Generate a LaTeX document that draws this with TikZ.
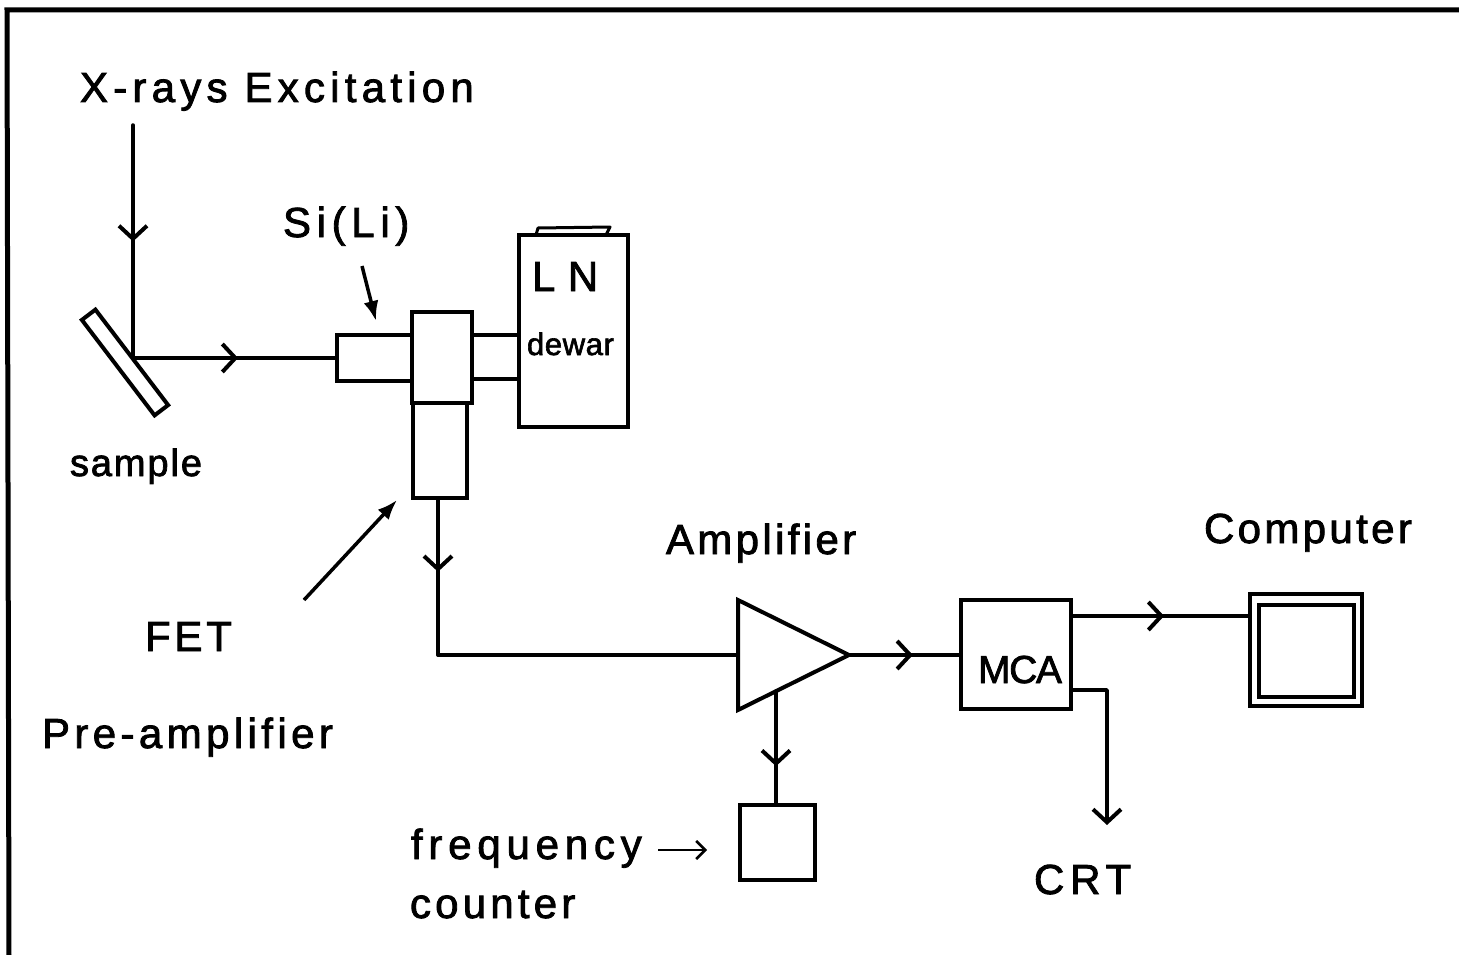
\documentclass[tikz,border=0pt]{standalone}
\usepackage{fontspec}
\setmainfont{Liberation Sans}
\newcommand{\lblfont}[2]{\fontsize{#1}{#1}\fontspec{Liberation Sans}[LetterSpace=#2,FakeBold=2]}
\usetikzlibrary{arrows.meta,decorations.markings}
\tikzset{
  x=1pt,y=-1pt,
  wire/.style={line width=3.5pt,line cap=round,line join=round},
  box/.style={draw,line width=4.5pt,rectangle,inner sep=0pt,outer sep=0pt},
  bar/.style={-{Straight Barb[length=13pt,width=28pt,line width=4pt]}},
  midbar/.style={postaction={decorate},decoration={markings,
     mark=at position #1 with {\arrow{Straight Barb[length=13pt,width=28pt,line width=4pt]}}}},
  lab/.style={anchor=base west,inner sep=0pt,outer sep=0pt},
  pointer/.style={line width=3.5pt,-{Latex[length=20pt,width=15pt]}}
}
\begin{document}
\begin{tikzpicture}
\useasboundingbox (0,0) rectangle (1459,955);
% frame
\coordinate (fb) at (9,955);
\coordinate (ft) at (7,10);
\coordinate (fr) at (1459,10);
\draw[line width=5pt] (fb) -- (ft) -- (fr);
% sample and excitation
\node[box,line width=4pt,rotate=-52.7,minimum width=120pt,minimum height=17pt] (sample) at (125,362.5) {};
\coordinate (xin) at (133,125);
\coordinate (hit) at (133,358);
\draw[wire,midbar=0.5] (xin) -- (hit);
% detector assembly
\node[box,minimum width=75pt,minimum height=46pt] (sili) at (374.5,358) {};
\node[box,minimum width=109pt,minimum height=192pt] (dewar) at (573.5,331) {};
\draw[wire] (472,335) -- (519,335);
\draw[wire] (472,379) -- (519,379);
\node[box,fill=white,minimum width=60pt,minimum height=91pt] (cold) at (442,357.5) {};
\node[box,minimum width=54pt,minimum height=95pt] (fet) at (440,450.5) {};
\draw[line width=3pt,line join=round] (536,235) -- (538,228) -- (610,227) -- (606,235);
\draw[wire,midbar=0.515] (hit) -- (sili.west);
% amplifier
\coordinate (a1) at (738,600);
\coordinate (a2) at (738,710);
\coordinate (a3) at (849,655);
\draw[wire,line width=4pt,line join=miter] (a1) -- (a3) -- (a2) -- cycle;
\coordinate (ain) at (738,655);
\coordinate (adown) at (776,691);
\coordinate (fetout) at (438,498);
\coordinate (bend) at (438,655);
\draw[wire,midbar=0.47] (fetout) -- (bend);
\draw[wire] (bend) -- (ain);
% frequency counter
\node[box,minimum width=75pt,minimum height=75pt] (freq) at (777.5,842.5) {};
\draw[wire,midbar=0.66] (adown) -- (adown |- freq.north);
\node[lab,font=\lblfont{42}{13.8}] (ftxt) at (411,859) {frequency};
\node[lab,font=\lblfont{42}{10}] (ctxt) at (410,918) {counter};
\coordinate (fa1) at (658,850);
\coordinate (fa2) at (707,850);
\draw[line width=2.5pt,-{Straight Barb[length=9pt,width=18pt,line width=2.5pt]}] (fa1) -- (fa2);
% MCA
\node[box,minimum width=110pt,minimum height=109pt] (mca) at (1016,654.5) {};
\draw[wire,midbar=0.57] (a3) -- (mca.west |- a3);
\node[lab,font=\lblfont{39}{-3.5}] (mcat) at (978,683) {MCA};
% computer
\node[box,minimum width=112pt,minimum height=112pt] (comp) at (1306,650) {};
\node[box,minimum width=95pt,minimum height=92pt] (screen) at (1306.5,651) {};
\coordinate (mo1) at (1071,616);
\coordinate (mo2) at (1071,690);
\coordinate (crt) at (1107,825);
\draw[wire,midbar=0.52] (mo1) -- (comp.west |- mo1);
\draw[wire,bar] (mo2) -- (1107,690) -- (crt);
% pointers
\coordinate (p1) at (362,266);
\coordinate (p2) at (376,321);
\draw[pointer] (p1) -- (p2);
\coordinate (p3) at (304,600);
\coordinate (p4) at (397,500);
\draw[pointer] (p3) -- (p4);
% labels
\node[lab,font=\lblfont{42}{12.5}] (t1) at (80,102) {X-rays Excitation};
\node[lab,font=\lblfont{42}{13.5}] (t2) at (283,237) {Si(Li)};
\node[lab,font=\lblfont{42}{30}] (t3) at (532,291) {LN};
\node[lab,font=\lblfont{31}{2}] (t4) at (527,355) {dewar};
\node[lab,font=\lblfont{38}{5}] (t5) at (70,476) {sample};
\node[lab,font=\lblfont{42}{9}] (t6) at (145,651) {FET};
\node[lab,font=\lblfont{42}{10.5}] (t7) at (42,748) {Pre-amplifier};
\node[lab,font=\lblfont{42}{8}] (t8) at (666,554) {Amplifier};
\node[lab,font=\lblfont{42}{8}] (t9) at (1204,543) {Computer};
\node[lab,font=\lblfont{42}{14}] (t10) at (1034,894) {CRT};
\end{tikzpicture}
\end{document}
